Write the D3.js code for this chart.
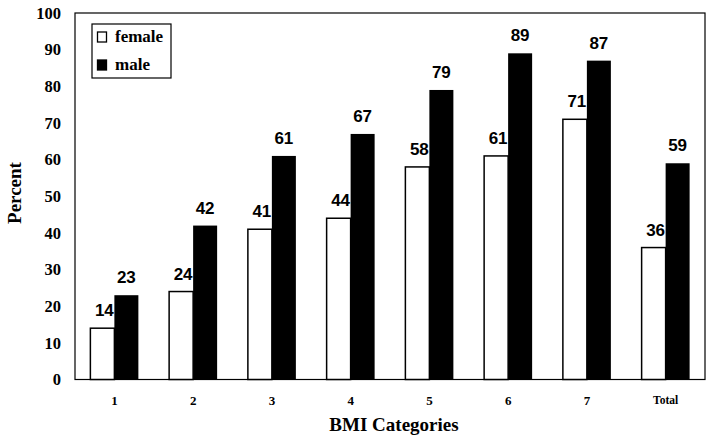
<!DOCTYPE html>
<html><head><meta charset="utf-8">
<script src="https://cdn.jsdelivr.net/npm/d3@7"></script>
<style>body{margin:0;background:#fff}</style>
</head><body>
<svg id="c" width="711" height="445"></svg>
<script>
const categories = ["1","2","3","4","5","6","7","Total"];
const female = [14,24,41,44,58,61,71,36];
const male = [23,42,61,67,79,89,87,59];
const yTicks = [0,10,20,30,40,50,60,70,80,90,100];
const seriesNames = ["female","male"];

const svg = d3.select("#c");
const m = {l:75, r:705, t:13, b:379.5};
const x = d3.scaleBand().domain(categories).range([m.l, m.r]);
const y = d3.scaleLinear().domain([0,100]).range([m.b, m.t]);
const bw = 24;
const serif = "'Liberation Serif','Times New Roman',serif";
const sans = "'Liberation Sans',Arial,sans-serif";

// frame
svg.append("rect").attr("x", m.l).attr("y", m.t).attr("width", m.r-m.l).attr("height", m.b-m.t)
  .attr("fill","none").attr("stroke","#000").attr("stroke-width",1.2);

// y axis
const yAxis = d3.axisLeft(y).tickValues(yTicks).tickSize(0).tickPadding(14);
const ga = svg.append("g").attr("transform",`translate(${m.l},0)`).call(yAxis);
ga.select(".domain").remove();
ga.selectAll("text").attr("font-family",serif).attr("font-weight","bold").attr("font-size",16.5).attr("fill","#000");

// x axis
const xAxis = d3.axisBottom(x).tickSize(0).tickPadding(16);
const gx = svg.append("g").attr("transform",`translate(0,${m.b})`).call(xAxis);
gx.select(".domain").remove();
gx.selectAll("text").attr("font-family",serif).attr("font-weight","bold")
  .attr("font-size", d => d==="Total" ? 11.5 : 13).attr("fill","#000");

const data = categories.map((c,i)=>({c, f:female[i], m:male[i]}));
const cx = d => x(d.c) + x.bandwidth()/2;

// female bars
svg.selectAll(".fb").data(data).enter().append("rect")
  .attr("x", d=>cx(d)-bw).attr("y", d=>y(d.f)).attr("width", bw).attr("height", d=>m.b-y(d.f))
  .attr("fill","#fff").attr("stroke","#000").attr("stroke-width",1.5);
// female labels
svg.selectAll(".fl").data(data).enter().append("text")
  .attr("x", d=>cx(d)-bw/2+2).attr("y", d=>y(d.f)-12).attr("text-anchor","middle")
  .attr("font-family",sans).attr("font-weight","bold").attr("font-size",17).text(d=>d.f);
// male bars
svg.selectAll(".mb").data(data).enter().append("rect")
  .attr("x", d=>cx(d)).attr("y", d=>y(d.m)).attr("width", bw).attr("height", d=>m.b-y(d.m))
  .attr("fill","#000");
// male labels
svg.selectAll(".ml").data(data).enter().append("text")
  .attr("x", d=>cx(d)+bw/2).attr("y", d=>y(d.m)-12).attr("text-anchor","middle")
  .attr("font-family",sans).attr("font-weight","bold").attr("font-size",17).text(d=>d.m);

// legend
const lg = svg.append("g");
lg.append("rect").attr("x",92).attr("y",24).attr("width",79).attr("height",54)
  .attr("fill","#fff").attr("stroke","#000").attr("stroke-width",1.2);
seriesNames.forEach((n,i)=>{
  const yy = 37 + i*28;
  lg.append("rect").attr("x",97.5).attr("y",yy-5).attr("width",9).attr("height",10)
    .attr("fill", i===0?"#fff":"#000").attr("stroke","#000").attr("stroke-width",1.3);
  lg.append("text").attr("x",115).attr("y",yy+5).attr("font-family",serif).attr("font-weight","bold")
    .attr("font-size",17).text(n);
});

// titles
svg.append("text").attr("x",394).attr("y",431).attr("text-anchor","middle")
  .attr("font-family",serif).attr("font-weight","bold").attr("font-size",19).text("BMI Categories");
svg.append("text").attr("transform",`translate(21,193) rotate(-90)`).attr("text-anchor","middle")
  .attr("font-family",serif).attr("font-weight","bold").attr("font-size",19).text("Percent");
</script>
</body></html>
